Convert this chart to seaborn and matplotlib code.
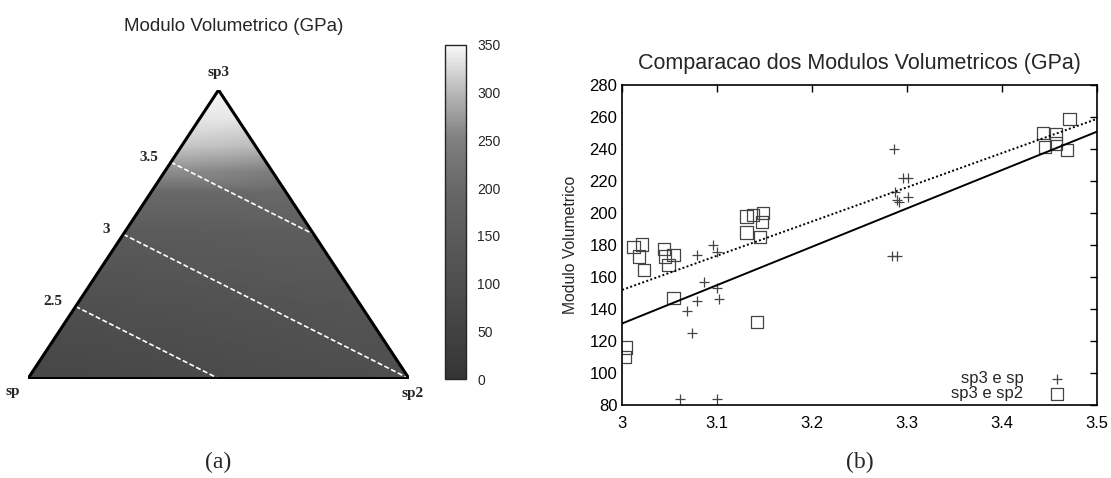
import numpy as np
import matplotlib
matplotlib.use('Agg')
import matplotlib.pyplot as plt
import matplotlib.tri as mtri
from matplotlib.colors import LinearSegmentedColormap
import seaborn as sns

# ---- panel (a): ternary map ----
vertex_names = ['sp', 'sp2', 'sp3']
vertex_density = [2.0, 3.0, 4.0]          # contour quantity at sp, sp2, sp3
density_levels = [2.5, 3.0, 3.5]
density_labels = ['2.5', '3', '3.5']

sp3_levels = [0.0, 0.25, 0.5, 0.65, 0.72, 0.8, 0.9, 1.0]
modulus_sp_edge = [65, 100, 145, 200, 265, 310, 335, 350]    # along sp - sp3 edge
modulus_sp2_edge = [100, 125, 160, 205, 250, 300, 335, 350]  # along sp2 - sp3 edge
cbar_ticks = [0, 50, 100, 150, 200, 250, 300, 350]

# ---- panel (b): scatter ----
plus_x = [3.061, 3.068, 3.074, 3.079, 3.079, 3.086, 3.096, 3.100, 3.100, 3.100,
          3.102, 3.284, 3.289, 3.286, 3.287, 3.291, 3.289, 3.296, 3.301, 3.301]
plus_y = [84, 139, 125, 145, 174, 157, 180, 176, 153, 84,
          146, 173.5, 173.5, 240, 213, 207, 208, 222, 222, 210]
square_x = [3.003, 3.004, 3.012, 3.018, 3.021, 3.023, 3.044, 3.045, 3.049, 3.054,
            3.054, 3.131, 3.131, 3.138, 3.142, 3.145, 3.147, 3.148, 3.443, 3.445,
            3.457, 3.457, 3.468, 3.471]
square_y = [110, 116, 179, 173, 180.5, 164.5, 177.5, 173, 167.5, 174,
            147, 198, 188, 199, 132, 185, 194.5, 200, 250, 241.5,
            249.5, 243.5, 239.5, 259]
fit_sp = [131, 240]      # value at x=3, slope
fit_sp2 = [152, 214]
x_ticks = [3, 3.1, 3.2, 3.3, 3.4, 3.5]
x_ticklabels = ['3', '3.1', '3.2', '3.3', '3.4', '3.5']
y_ticks = [80, 100, 120, 140, 160, 180, 200, 220, 240, 260, 280]

sns.set_style('white')
plt.rcParams['font.family'] = ['Liberation Sans', 'DejaVu Sans']

fig = plt.figure(figsize=(11.11, 4.78), dpi=100)

# ternary panel
ax = fig.add_axes([0.0252, 0.208, 0.343, 0.6036])
xs, ys, zs, ds = [], [], [], []
for t, ml, mr in zip(sp3_levels, modulus_sp_edge, modulus_sp2_edge):
    xs.append(0.5 * t); ys.append(t); zs.append(ml)
    ds.append(vertex_density[0] * (1 - t) + vertex_density[2] * t)
    if t < 1:
        xs.append(1 - 0.5 * t); ys.append(t); zs.append(mr)
        ds.append(vertex_density[1] * (1 - t) + vertex_density[2] * t)
triang = mtri.Triangulation(xs, ys)

cmap = LinearSegmentedColormap.from_list('bw', [
    (0.0, '#353535'), (0.3, '#505050'), (0.55, '#656565'),
    (0.72, '#808080'), (0.86, '#b8b8b8'), (1.0, '#f8f8f8')])
tpc = ax.tripcolor(triang, zs, shading='gouraud', cmap=cmap, vmin=0, vmax=350)
cs = ax.tricontour(triang, ds, levels=density_levels, colors='white',
                   linewidths=1.2, linestyles=[(0, (3, 1.5))])
ax.plot([0, 1, 0.5, 0], [0, 0, 1, 0], color='black', lw=2.2, solid_joinstyle='miter')
lab_font = dict(fontsize=11, fontweight='bold', family='Liberation Serif')
for lev, lab in zip(density_levels, density_labels):
    t = (lev - vertex_density[0]) / (vertex_density[2] - vertex_density[0])
    ax.annotate(lab, (0.5 * t, t), xytext=(-13, 5), textcoords='offset pixels',
                ha='right', va='center', **lab_font)
ax.text(0.5, 1.04, vertex_names[2], ha='center', va='bottom', **lab_font)
ax.text(-0.04, -0.045, vertex_names[0], ha='center', va='center', **lab_font)
ax.text(1.01, -0.05, vertex_names[1], ha='center', va='center', **lab_font)
ax.set_xlim(0, 1)
ax.set_ylim(0, 1)
ax.axis('off')
fig.text(0.21, 0.945, 'Modulo Volumetrico (GPa)', ha='center', va='center', fontsize=13.5)

cax = fig.add_axes([0.4005, 0.207, 0.0189, 0.699])
cb = fig.colorbar(tpc, cax=cax, ticks=cbar_ticks)
cb.outline.set_linewidth(1.0)
cax.tick_params(direction='in', length=3, width=0.8, left=True, right=True,
                labelsize=10, pad=8)

# scatter panel
bx = fig.add_axes([0.560, 0.1527, 0.4275, 0.669])
xline = np.array([3.0, 3.5])
sns.lineplot(x=xline, y=fit_sp[0] + fit_sp[1] * (xline - 3), color='black',
             lw=1.4, ax=bx, legend=False)
sns.lineplot(x=xline, y=fit_sp2[0] + fit_sp2[1] * (xline - 3), color='black',
             lw=1.4, linestyle=(0, (1, 1.2)), ax=bx, legend=False)
sns.scatterplot(x=plus_x, y=plus_y, marker='+', s=55, color='#444444',
                linewidth=0.9, ax=bx, label='sp3 e sp')
sns.scatterplot(x=square_x, y=square_y, marker='s', s=80, facecolor='none',
                edgecolor='#444444', linewidth=0.9, ax=bx, label='sp3 e sp2')
bx.set_xlim(3, 3.5)
bx.set_ylim(80, 280)
bx.set_xticks(x_ticks)
bx.set_xticklabels(x_ticklabels)
bx.set_yticks(y_ticks)
bx.tick_params(direction='in', length=5, width=1, top=True, right=True,
               labelsize=12, colors='black')
bx.tick_params(axis='x', pad=8)
for sp in bx.spines.values():
    sp.set_color('black')
    sp.set_linewidth(1.2)
bx.set_ylabel('Modulo Volumetrico', fontsize=11.3, labelpad=8)
bx.set_title('Comparacao dos Modulos Volumetricos (GPa)', fontsize=15.5, pad=12)
bx.legend(loc='lower right', bbox_to_anchor=(0.975, -0.025), frameon=False,
          markerfirst=False, fontsize=12, handletextpad=1.0, labelspacing=0.0,
          borderaxespad=0.3)

fig.text(0.196, 0.033, '(a)', ha='center', va='center', fontsize=17, family='Liberation Serif')
fig.text(0.774, 0.033, '(b)', ha='center', va='center', fontsize=17, family='Liberation Serif')

fig.savefig('out.png', dpi=100)
